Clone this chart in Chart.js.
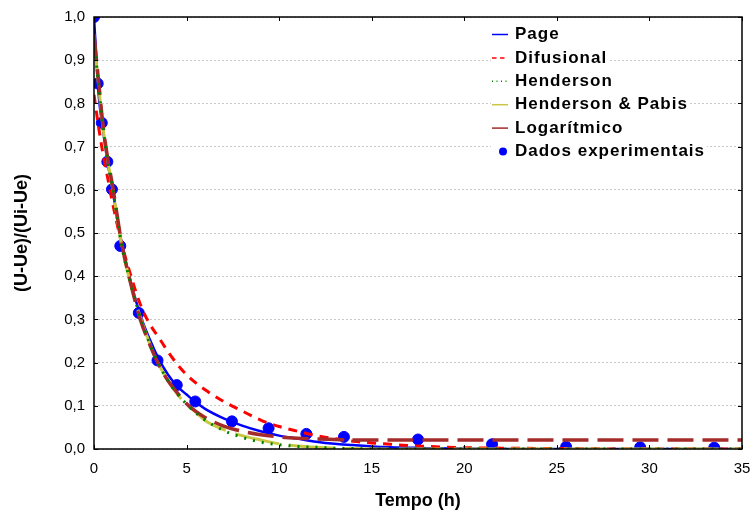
<!DOCTYPE html>
<html lang="pt">
<head>
<meta charset="UTF-8">
<title>Secagem - razão de umidade</title>
<script src="https://cdn.jsdelivr.net/npm/chart.js"></script>
<style>
  html, body { margin: 0; padding: 0; background: #fff; }
  #box { width: 753px; height: 515px; }
</style>
</head>
<body>
<div id="box"><canvas id="grafico"></canvas></div>
<script>
// Tempo (h) dos dados experimentais
const tempoExp = [0, 0.2, 0.42, 0.72, 0.97, 1.42, 2.42, 3.43, 4.47, 5.47, 7.45, 9.43, 11.47, 13.5, 17.5, 21.5, 25.5, 29.5, 33.5];
// (U-Ue)/(Ui-Ue) medido
const dadosExp = [1.0, 0.846, 0.755, 0.665, 0.601, 0.47, 0.315, 0.205, 0.148, 0.11, 0.064, 0.048, 0.035, 0.028, 0.022, 0.011, 0.005, 0.004, 0.003];

// Tempo (h) usado para as curvas dos modelos
const tempoModelo = [0, 0.25, 0.5, 0.75, 1, 1.5, 2, 2.5, 3, 3.5, 4, 4.5, 5, 5.5, 6, 7, 8, 9, 10, 11, 12, 13, 14, 15, 16, 17, 18, 20, 22, 25, 30, 35];
const page        = [1.0, 0.82, 0.735, 0.66, 0.60, 0.475, 0.385, 0.31, 0.255, 0.208, 0.172, 0.145, 0.126, 0.108, 0.093, 0.071, 0.054, 0.041, 0.031, 0.024, 0.017, 0.012, 0.009, 0.006, 0.004, 0.003, 0.002, 0.001, 0, 0, 0, 0];
const difusional  = [0.82, 0.745, 0.68, 0.625, 0.57, 0.475, 0.40, 0.335, 0.29, 0.258, 0.225, 0.196, 0.172, 0.153, 0.137, 0.11, 0.088, 0.067, 0.052, 0.041, 0.031, 0.024, 0.018, 0.014, 0.011, 0.008, 0.006, 0.003, 0.002, 0.001, 0, 0];
const henderson   = [0.95, 0.84, 0.74, 0.665, 0.605, 0.47, 0.38, 0.305, 0.245, 0.196, 0.158, 0.128, 0.104, 0.084, 0.067, 0.043, 0.027, 0.016, 0.010, 0.006, 0.004, 0.002, 0.001, 0, 0, 0, 0, 0, 0, 0, 0, 0];
const hendPabis   = [0.95, 0.84, 0.74, 0.665, 0.605, 0.47, 0.38, 0.305, 0.245, 0.196, 0.158, 0.127, 0.103, 0.085, 0.066, 0.045, 0.031, 0.021, 0.012, 0.007, 0.004, 0.002, 0.001, 0, 0, 0, 0, 0, 0, 0, 0, 0];
const logaritmico = [0.96, 0.85, 0.745, 0.67, 0.61, 0.475, 0.38, 0.30, 0.243, 0.195, 0.158, 0.13, 0.105, 0.087, 0.073, 0.053, 0.041, 0.033, 0.028, 0.025, 0.023, 0.022, 0.021, 0.021, 0.021, 0.021, 0.021, 0.021, 0.021, 0.021, 0.021, 0.021];

const ticksY = [0, 0.1, 0.2, 0.3, 0.4, 0.5, 0.6, 0.7, 0.8, 0.9, 1.0];
const ticksX = [0, 5, 10, 15, 20, 25, 30, 35];

function pares(xs, ys) {
    return xs.map((x, i) => ({ x: x, y: ys[i] }));
}

function curva(label, ys, cor, largura, traco, ordem) {
    return {
        type: 'line',
        label: label,
        data: pares(tempoModelo, ys),
        borderColor: cor,
        backgroundColor: cor,
        borderWidth: largura,
        borderDash: traco,
        pointRadius: 0,
        fill: false,
        cubicInterpolationMode: 'monotone',
        order: ordem
    };
}

const datasets = [
    curva('Page', page, '#0000ff', 2.5, [], 5),
    curva('Difusional', difusional, '#ff0000', 3, [9, 7], 4),
    curva('Henderson', henderson, '#008000', 3, [2, 7], 1),
    curva('Henderson & Pabis', hendPabis, '#c8c840', 3, [45, 10], 3),
    curva('Logarítmico', logaritmico, '#a52a2a', 3.5, [26, 9], 2),
    {
        type: 'scatter',
        label: 'Dados experimentais',
        data: pares(tempoExp, dadosExp),
        backgroundColor: '#0000ff',
        borderColor: '#0000ff',
        pointRadius: 5.5,
        pointStyle: 'circle',
        order: 10
    }
];

// moldura com marcas para dentro nos quatro lados
const moldura = {
    id: 'moldura',
    afterDatasetsDraw(chart) {
        const { ctx, chartArea: a, scales: { x, y } } = chart;
        ctx.save();
        ctx.strokeStyle = '#000';
        ctx.lineWidth = 1.5;
        ctx.strokeRect(a.left, a.top, a.right - a.left, a.bottom - a.top);
        ctx.lineWidth = 1;
        ctx.beginPath();
        ticksX.forEach(v => {
            const px = Math.round(x.getPixelForValue(v)) + 0.5;
            ctx.moveTo(px, a.bottom); ctx.lineTo(px, a.bottom - 4);
            ctx.moveTo(px, a.top); ctx.lineTo(px, a.top + 4);
        });
        ticksY.forEach(v => {
            const py = Math.round(y.getPixelForValue(v)) + 0.5;
            ctx.moveTo(a.left, py); ctx.lineTo(a.left + 4, py);
            ctx.moveTo(a.right, py); ctx.lineTo(a.right - 4, py);
        });
        ctx.stroke();
        ctx.restore();
    }
};

// legenda dentro da área do gráfico, canto superior direito
const legenda = {
    id: 'legenda',
    afterDraw(chart) {
        const ctx = chart.ctx;
        const x0 = 492, xTexto = 515, y0 = 34.5, passo = 23.4;
        ctx.save();
        ctx.font = 'bold 17px "Liberation Sans", Arial, sans-serif';
        ctx.letterSpacing = '1px';
        ctx.textBaseline = 'middle';
        chart.data.datasets.forEach((ds, i) => {
            const yy = y0 + i * passo;
            const w = ctx.measureText(ds.label).width;
            ctx.fillStyle = '#fff';
            ctx.fillRect(x0 - 1, yy - 9, xTexto - x0 + w + 3, 18);
            if (ds.type === 'scatter') {
                ctx.fillStyle = ds.backgroundColor;
                ctx.beginPath();
                ctx.arc(503, yy, 4, 0, Math.PI * 2);
                ctx.fill();
            } else {
                ctx.strokeStyle = ds.borderColor;
                ctx.lineWidth = 1.5;
                ctx.setLineDash(ds.borderDash.length ? [ds.borderDash[0] > 20 ? 16 : ds.borderDash[0] / 2, ds.borderDash[1] / 2] : []);
                ctx.beginPath();
                ctx.moveTo(x0, yy);
                ctx.lineTo(x0 + 16, yy);
                ctx.stroke();
                ctx.setLineDash([]);
            }
            ctx.fillStyle = '#000';
            ctx.fillText(ds.label, xTexto, yy);
        });
        ctx.restore();
    }
};

const virgula = v => v.toFixed(1).replace('.', ',');

new Chart(document.getElementById('grafico'), {
    data: { datasets: datasets },
    options: {
        responsive: true,
        maintainAspectRatio: false,
        animation: false,
        events: [],
        layout: { padding: { top: 17, right: 11, left: 0, bottom: 0 } },
        plugins: {
            legend: { display: false },
            tooltip: { enabled: false }
        },
        scales: {
            x: {
                type: 'linear',
                min: 0,
                max: 35,
                afterFit: s => { s.height = 66; s.paddingLeft = 0; s.paddingRight = 0; },
                afterBuildTicks: s => { s.ticks = ticksX.map(v => ({ value: v })); },
                grid: { display: false, drawTicks: false },
                border: { display: false },
                ticks: {
                    padding: 11,
                    color: '#000',
                    font: { size: 15, family: '"Liberation Sans", Arial, sans-serif' },
                    maxRotation: 0
                },
                title: {
                    display: true,
                    text: 'Tempo (h)',
                    color: '#000',
                    font: { size: 18, weight: 'bold', family: '"Liberation Sans", Arial, sans-serif' },
                    padding: { top: 0, bottom: 3 }
                }
            },
            y: {
                type: 'linear',
                min: 0,
                max: 1,
                afterFit: s => { s.width = 94; s.paddingTop = 0; s.paddingBottom = 0; },
                afterBuildTicks: s => { s.ticks = ticksY.map(v => ({ value: v })); },
                grid: {
                    color: '#c8c8c8',
                    lineWidth: 1,
                    drawTicks: false
                },
                border: { display: false, dash: [2, 2] },
                ticks: {
                    padding: 9,
                    color: '#000',
                    font: { size: 15, family: '"Liberation Sans", Arial, sans-serif' },
                    callback: v => virgula(v)
                },
                title: {
                    display: true,
                    text: '(U-Ue)/(Ui-Ue)',
                    color: '#000',
                    font: { size: 18, weight: 'bold', family: '"Liberation Sans", Arial, sans-serif' },
                    padding: { top: 11, bottom: 0 }
                }
            }
        }
    },
    plugins: [moldura, legenda]
});
</script>
</body>
</html>
